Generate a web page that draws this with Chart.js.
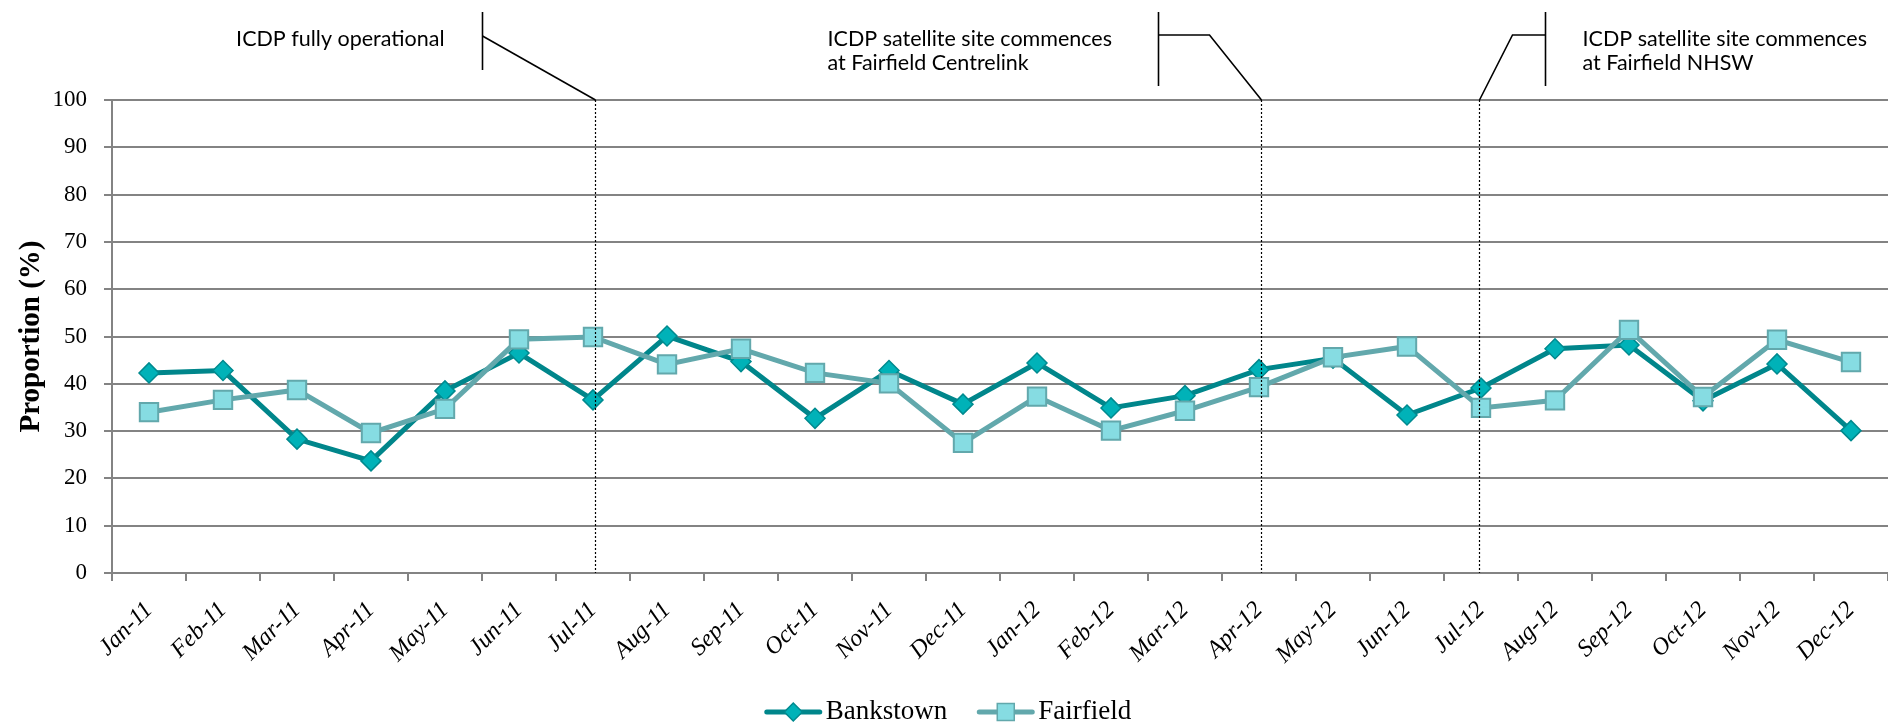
<!DOCTYPE html>
<html>
<head>
<meta charset="utf-8">
<script src="https://cdn.jsdelivr.net/npm/chart.js@4.4.1/dist/chart.umd.min.js"></script>
<style>
  html, body { margin: 0; padding: 0; background: #fff; }
</style>
</head>
<body>
<canvas id="proporcao" width="1888" height="726"></canvas>
<script>
const meses = ['Jan-11', 'Feb-11', 'Mar-11', 'Apr-11', 'May-11', 'Jun-11', 'Jul-11', 'Aug-11',
  'Sep-11', 'Oct-11', 'Nov-11', 'Dec-11', 'Jan-12', 'Feb-12', 'Mar-12', 'Apr-12',
  'May-12', 'Jun-12', 'Jul-12', 'Aug-12', 'Sep-12', 'Oct-12', 'Nov-12', 'Dec-12'];

const bankstown = [42.3, 42.8, 28.3, 23.7, 38.5, 46.5, 36.6, 50.1, 44.7, 32.7, 42.8, 35.7,
  44.4, 34.9, 37.5, 43.0, 45.4, 33.4, 39.1, 47.4, 48.2, 36.4, 44.2, 30.1];

const fairfield = [34.0, 36.6, 38.7, 29.6, 34.7, 49.4, 49.9, 44.1, 47.4, 42.3, 40.1, 27.5,
  37.3, 30.1, 34.3, 39.3, 45.6, 47.9, 34.9, 36.5, 51.4, 37.2, 49.3, 44.6];

const eixoY = { min: 0, max: 100, passo: 10 };

// marcos do programa (mes + texto)
const eventos = [
  { mes: 'Jul-11', texto: ['ICDP fully operational'] },
  { mes: 'Apr-12', texto: ['ICDP satellite site commences', 'at Fairfield Centrelink'] },
  { mes: 'Jul-12', texto: ['ICDP satellite site commences', 'at Fairfield NHSW'] }
];

// desenho das chamadas: barra vertical, cotovelo e posicao do texto (px relativos ao marco)
const estiloEventos = [
  { desvio: 2, barra: -113, fimBarra: 70, cotoveloY: 36, cotoveloX: null, alinhar: 'right', textoX: -38 },
  { desvio: 2, barra: -103, fimBarra: 86, cotoveloY: 35, cotoveloX: -52, alinhar: 'left', textoX: -331 },
  { desvio: -2, barra: 66, fimBarra: 86, cotoveloY: 35, cotoveloX: 33, alinhar: 'left', textoX: 37 }
];

const corBank = { linha: '#00868b', ponto: '#00b2b8', borda: '#008a8f' };
const corFair = { linha: '#62a8ac', ponto: '#86dce2', borda: '#62a8ac' };
const cinza = '#838383';

Chart.defaults.font.family = '"Liberation Serif", serif';
Chart.defaults.color = '#000';

const marcos = {
  id: 'marcos',
  afterDatasetsDraw(chart) {
    const { ctx, scales: { x, y } } = chart;
    const topo = y.getPixelForValue(eixoY.max);
    const base = y.getPixelForValue(eixoY.min);
    ctx.save();
    ctx.strokeStyle = '#000';
    ctx.fillStyle = '#000';
    eventos.forEach((ev, i) => {
      const est = estiloEventos[i];
      const px = Math.round(x.getPixelForValue(meses.indexOf(ev.mes)) + est.desvio) + 0.5;

      // linha pontilhada
      ctx.lineWidth = 1.2;
      ctx.setLineDash([2, 2]);
      ctx.beginPath();
      ctx.moveTo(px, topo);
      ctx.lineTo(px, base);
      ctx.stroke();
      ctx.setLineDash([]);

      // barra e linha de chamada
      const bx = px + est.barra;
      ctx.lineWidth = 1.6;
      ctx.beginPath();
      ctx.moveTo(bx, 12);
      ctx.lineTo(bx, est.fimBarra);
      ctx.stroke();
      ctx.beginPath();
      ctx.moveTo(bx, est.cotoveloY);
      if (est.cotoveloX !== null) ctx.lineTo(px + est.cotoveloX, est.cotoveloY);
      ctx.lineTo(px, topo);
      ctx.stroke();

      ctx.font = '21.5px Lato';
      ctx.textAlign = est.alinhar;
      ctx.textBaseline = 'middle';
      ev.texto.forEach((linha, j) => {
        ctx.fillText(linha, bx + est.textoX, 39 + j * 24);
      });
    });
    ctx.restore();
  }
};

// legenda com amostra de linha + marcador
const legenda = {
  id: 'legenda',
  afterDraw(chart) {
    const { ctx } = chart;
    const cy = 712;
    const itens = [
      { nome: 'Bankstown', cor: corBank, forma: 'losango' },
      { nome: 'Fairfield', cor: corFair, forma: 'quadrado' }
    ];
    ctx.save();
    ctx.font = '27px "Liberation Serif"';
    const amostra = 57, gap = 4, entre = 30;
    const larguras = itens.map(it => amostra + gap + ctx.measureText(it.nome).width);
    let x0 = chart.width / 2 - (larguras[0] + larguras[1] + entre) / 2 + 4;
    itens.forEach((it, i) => {
      ctx.strokeStyle = it.cor.linha;
      ctx.lineWidth = 5;
      ctx.lineCap = 'round';
      ctx.beginPath();
      ctx.moveTo(x0 + 2, cy);
      ctx.lineTo(x0 + amostra - 2, cy);
      ctx.stroke();
      const mx = x0 + amostra / 2;
      ctx.fillStyle = it.cor.ponto;
      ctx.strokeStyle = it.cor.borda;
      ctx.lineWidth = 1.5;
      ctx.beginPath();
      if (it.forma === 'losango') {
        ctx.moveTo(mx, cy - 9); ctx.lineTo(mx + 9, cy); ctx.lineTo(mx, cy + 9); ctx.lineTo(mx - 9, cy);
      } else {
        ctx.rect(mx - 8.5, cy - 8.5, 17, 17);
      }
      ctx.closePath();
      ctx.fill();
      ctx.stroke();
      ctx.fillStyle = '#000';
      ctx.textAlign = 'left';
      ctx.textBaseline = 'middle';
      ctx.fillText(it.nome, x0 + amostra + gap, cy);
      x0 += larguras[i] + entre;
    });
    ctx.restore();
  }
};

new Chart(document.getElementById('proporcao').getContext('2d'), {
  type: 'line',
  data: {
    labels: meses,
    datasets: [{
      label: 'Bankstown',
      data: bankstown,
      order: 1,
      borderColor: corBank.linha,
      borderWidth: 5,
      backgroundColor: corBank.ponto,
      pointStyle: 'rectRot',
      pointRadius: 10,
      pointBackgroundColor: corBank.ponto,
      pointBorderColor: corBank.borda,
      pointBorderWidth: 1.5,
      tension: 0
    }, {
      label: 'Fairfield',
      data: fairfield,
      order: 0,
      borderColor: corFair.linha,
      borderWidth: 5,
      backgroundColor: corFair.ponto,
      pointStyle: 'rect',
      pointRadius: 13,
      pointBackgroundColor: corFair.ponto,
      pointBorderColor: corFair.borda,
      pointBorderWidth: 2,
      tension: 0
    }]
  },
  options: {
    responsive: false,
    animation: false,
    layout: { autoPadding: false, padding: { top: 100, left: 0, right: 0, bottom: 43 } },
    plugins: {
      legend: { display: false },
      tooltip: { enabled: false }
    },
    scales: {
      x: {
        offset: true,
        grid: { display: true, drawOnChartArea: false, drawTicks: true, tickLength: 8, offset: true, color: cinza, lineWidth: 2 },
        border: { display: true, color: cinza, width: 2 },
        ticks: {
          autoSkip: false, minRotation: 45, maxRotation: 45, padding: 15,
          font: { size: 24, style: 'italic' }
        },
        afterFit(scale) {
          scale.height = 110;
          scale.paddingLeft = 0;
          scale.paddingRight = 0;
        }
      },
      y: {
        min: eixoY.min,
        max: eixoY.max,
        grid: { color: cinza, lineWidth: 2, tickLength: 8 },
        border: { display: true, color: cinza, width: 2 },
        ticks: { stepSize: eixoY.passo, padding: 17, font: { size: 23 } },
        title: {
          display: true,
          text: 'Proportion (%)',
          font: { size: 29, weight: 'bold', lineHeight: 1.2 },
          padding: { top: 14, bottom: 0 }
        },
        afterFit(scale) { scale.width = 112; }
      }
    }
  },
  plugins: [marcos, legenda]
});
</script>
</body>
</html>
